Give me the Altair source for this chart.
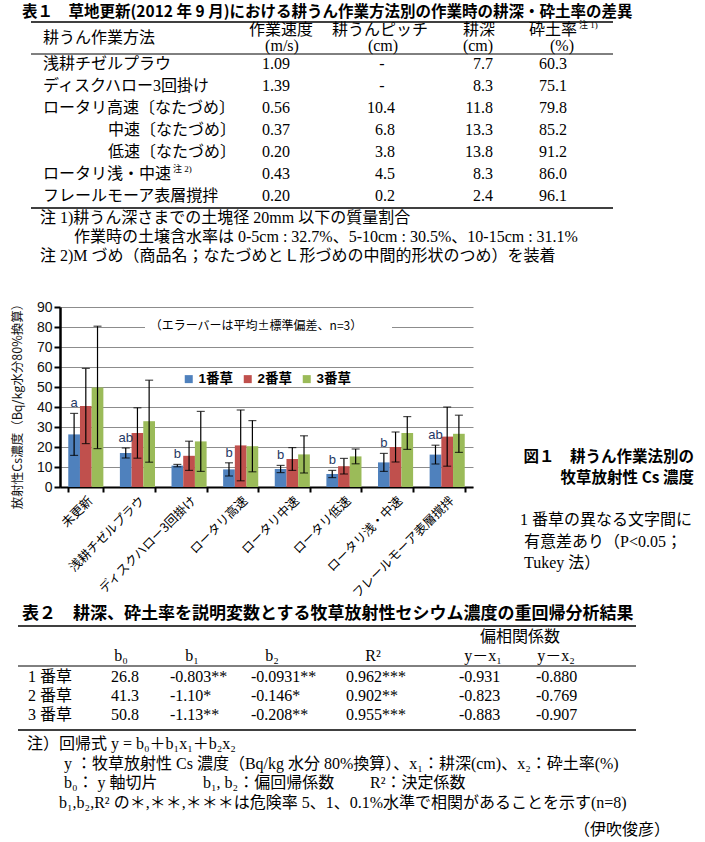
import altair as alt
import pandas as pd

# ---------------- Figure 1 values ----------------
methods = ["未更新", "浅耕チゼルプラウ", "ディスクハロー3回掛け", "ロータリ高速",
           "ロータリ中速", "ロータリ低速", "ロータリ浅・中速", "フレールモーア表層撹拌"]
cuts = ["1番草", "2番草", "3番草"]
mean_1 = [26.3, 17.0, 10.7, 8.8, 9.0, 6.5, 12.3, 16.2]
sd_1 = [10.5, 2.5, 0.6, 3.3, 1.8, 1.8, 4.5, 4.7]
mean_2 = [40.5, 27.0, 15.6, 20.8, 14.0, 10.4, 20.0, 25.2]
sd_2 = [18.8, 12.6, 7.3, 17.7, 5.7, 3.9, 7.5, 14.8]
mean_3 = [49.8, 32.9, 22.8, 20.4, 16.3, 15.3, 27.0, 26.6]
sd_3 = [30.6, 20.5, 15.0, 12.8, 9.3, 3.7, 8.2, 9.3]
letters = ["a", "ab", "b", "b", "b", "b", "b", "ab"]
y_ticks = [0, 10, 20, 30, 40, 50, 60, 70, 80, 90]
colors = ["#4F81BD", "#C0504D", "#9BBB59"]

# ---------------- Table 1 values ----------------
t1_title = "表１　草地更新(2012 年 9 月)における耕うん作業方法別の作業時の耕深・砕土率の差異"
t1_methods = ["浅耕チゼルプラウ", "ディスクハロー3回掛け", "ロータリ高速〔なたづめ〕",
              "中速〔なたづめ〕", "低速〔なたづめ〕", "ロータリ浅・中速", "フレールモーア表層撹拌"]
t1_speed = [1.09, 1.39, 0.56, 0.37, 0.20, 0.43, 0.20]
t1_pitch = [None, None, 10.4, 6.8, 3.8, 4.5, 0.2]
t1_depth = [7.7, 8.3, 11.8, 13.3, 13.8, 8.3, 2.4]
t1_crush = [60.3, 75.1, 79.8, 85.2, 91.2, 86.0, 96.1]
t1_notes = ["注 1)耕うん深さまでの土塊径 20mm 以下の質量割合",
            "作業時の土壌含水率は 0-5cm : 32.7%、5-10cm : 30.5%、10-15cm : 31.1%",
            "注 2)M づめ（商品名；なたづめとＬ形づめの中間的形状のつめ）を装着"]

# ---------------- Table 2 values ----------------
t2_title = "表２　耕深、砕土率を説明変数とする牧草放射性セシウム濃度の重回帰分析結果"
t2_rows = ["1 番草", "2 番草", "3 番草"]
t2_b0 = ["26.8", "41.3", "50.8"]
t2_b1 = ["-0.803**", "-1.10*", "-1.13**"]
t2_b2 = ["-0.0931**", "-0.146*", "-0.208**"]
t2_r2 = ["0.962***", "0.902**", "0.955***"]
t2_yx1 = ["-0.931", "-0.823", "-0.883"]
t2_yx2 = ["-0.880", "-0.769", "-0.907"]
t2_heads = ["b₀", "b₁", "b₂", "R²", "y－x₁", "y－x₂"]

caption = ["図１　耕うん作業法別の", "牧草放射性 Cs 濃度"]
caption_note = ["1 番草の異なる文字間に", "有意差あり（P<0.05；", "Tukey 法）"]
annotation = "（エラーバーは平均±標準偏差、n=3）"

# ---------------- layout (page pixels) ----------------
OX, OY = 60, 307          # plot origin on the page
PLOT_W, PLOT_H = 413, 180
PAGE_W, PAGE_H = 705, 842

SERIF = "Liberation Serif, Noto Sans CJK JP"
GOTHIC = "Noto Sans CJK JP"
SANS = "Liberation Sans, Noto Sans CJK JP"

texts = []


def add(px, py, text, size, style):
    texts.append(dict(x=px - OX, y=py - OY, text=text, size=size, style=style))


lines = []


def hline(x1, x2, py, w):
    lines.append(dict(x=x1 - OX, x2=x2 - OX, y=py - OY, w=w))


# Table 1
add(22, 12, t1_title, 15.5, "lb")
hline(31, 613, 22, 1.5)
hline(31, 613, 54, 1)
hline(31, 613, 208, 1.5)
add(43, 38, "耕うん作業方法", 16, "l")
add(281, 30, "作業速度", 16, "c")
add(282, 46, "(m/s)", 16, "c")
add(380, 30, "耕うんピッチ", 16, "c")
add(383, 46, "(cm)", 16, "c")
add(479, 30, "耕深", 16, "c")
add(478, 46, "(cm)", 16, "c")
add(553, 30, "砕土率", 16, "c")
add(579, 25, "注 1)", 9, "l")
add(562, 46, "(%)", 16, "c")
t1_row_y = [64, 86, 108, 130, 152, 174, 196]
t1_label_x = [43, 43, 43, 108, 108, 43, 43]
for i in range(len(t1_methods)):
    yy = t1_row_y[i]
    add(t1_label_x[i], yy, t1_methods[i], 16, "l")
    add(290, yy, f"{t1_speed[i]:.2f}", 16, "r")
    if t1_pitch[i] is None:
        add(382, yy, "-", 16, "c")
    else:
        add(395, yy, f"{t1_pitch[i]:.1f}", 16, "r")
    add(493, yy, f"{t1_depth[i]:.1f}", 16, "r")
    add(567, yy, f"{t1_crush[i]:.1f}", 16, "r")
add(173, 169, "注 2)", 9, "l")
add(40, 218, t1_notes[0], 16, "l")
add(74, 237, t1_notes[1], 16, "l")
add(40, 256, t1_notes[2], 16, "l")

# Figure caption (right of chart)
add(694, 457, caption[0], 15.5, "rb")
add(694, 478, caption[1], 15.5, "rb")
add(520, 520, caption_note[0], 16, "l")
add(524, 542, caption_note[1], 16, "l")
add(524, 563, caption_note[2], 16, "l")

# Table 2
add(22, 614, t2_title, 17, "lb")
hline(18, 636, 626, 1.5)
hline(18, 636, 666, 1)
hline(18, 636, 730, 1.5)
add(520, 637, "偏相関係数", 16, "c")
head_x = [121, 192, 272, 373, 483, 556]
for hx, h in zip(head_x, t2_heads):
    add(hx, 656, h, 16, "c")
t2_row_y = [677, 696, 715]
col_x = [111, 170, 251, 346, 459, 536]
for i in range(3):
    yy = t2_row_y[i]
    add(28, yy, t2_rows[i], 16, "l")
    for cx, col in zip(col_x, [t2_b0, t2_b1, t2_b2, t2_r2, t2_yx1, t2_yx2]):
        add(cx, yy, col[i], 16, "l")
add(27, 744, "注）回帰式 y = b₀＋b₁x₁＋b₂x₂", 16, "l")
add(64, 764, "y ：牧草放射性 Cs 濃度（Bq/kg 水分 80%換算）、x₁：耕深(cm)、x₂：砕土率(%)", 16, "l")
add(64, 783, "b₀： y 軸切片", 16, "l")
add(203, 783, "b₁, b₂：偏回帰係数", 16, "l")
add(370, 783, "R²：決定係数", 16, "l")
add(59, 803, "b₁,b₂,R² の＊,＊＊,＊＊＊は危険率 5、1、0.1%水準で相関があることを示す(n=8)", 16, "l")
add(670, 830, "（伊吹俊彦）", 16, "r")

text_df = pd.DataFrame(texts)
line_df = pd.DataFrame(lines)

# ---------------- pixel-placed layers ----------------
PX = alt.X("x:Q", scale=None, axis=None)
PY = alt.Y("y:Q", scale=None, axis=None)

bbox = alt.Chart(pd.DataFrame([dict(x=-OX, x2=PAGE_W - OX, y=-OY, y2=PAGE_H - OY)])).mark_rect(
    opacity=0).encode(x=PX, x2="x2:Q", y=PY, y2="y2:Q")

rules = alt.Chart(line_df).mark_rule(color="black").encode(
    x=PX, x2="x2:Q", y=PY,
    strokeWidth=alt.StrokeWidth("w:Q", scale=None, legend=None))

ann_box = alt.Chart(pd.DataFrame([dict(x=145 - OX, x2=392 - OX, y=316 - OY, y2=336 - OY)])).mark_rect(
    color="white").encode(x=PX, x2="x2:Q", y=PY, y2="y2:Q")
ann_text = alt.Chart(pd.DataFrame([dict(x=256 - OX, y=326 - OY, text=annotation)])).mark_text(
    font=GOTHIC, fontSize=12, color="black", baseline="middle", align="center").encode(
    x=PX, y=PY, text="text:N")

styles = {
    "l": dict(align="left", font=SERIF, fontWeight="normal"),
    "c": dict(align="center", font=SERIF, fontWeight="normal"),
    "r": dict(align="right", font=SERIF, fontWeight="normal"),
    "lb": dict(align="left", font=GOTHIC, fontWeight="bold"),
    "rb": dict(align="right", font=GOTHIC, fontWeight="bold"),
}
text_layers = []
for key, st in styles.items():
    sub = text_df[text_df["style"] == key]
    if len(sub) == 0:
        continue
    text_layers.append(
        alt.Chart(sub).mark_text(baseline="middle", color="black", **st).encode(
            x=PX, y=PY, text="text:N",
            size=alt.Size("size:Q", scale=None, legend=None)))

# ---------------- bar chart ----------------
rows = []
for i, m in enumerate(methods):
    for cut, means, sds in zip(cuts, [mean_1, mean_2, mean_3], [sd_1, sd_2, sd_3]):
        rows.append(dict(method=m, cut=cut, mean=means[i],
                         lo=round(means[i] - sds[i], 2), hi=round(means[i] + sds[i], 2),
                         letter=letters[i] if cut == cuts[0] else ""))
bar_df = pd.DataFrame(rows)

x_enc = alt.X("method:N", sort=methods,
              scale=alt.Scale(paddingInner=0.32, paddingOuter=0.16),
              axis=alt.Axis(title=None, labelAngle=-45, labelAlign="right", labelBaseline="top",
                            labelFont=GOTHIC, labelFontSize=12.5, labelColor="black",
                            labelPadding=2, tickBand="extent", tickSize=5, tickWidth=2,
                            tickColor="black", domainColor="black", domainWidth=2,
                            grid=False, labelOverlap=False))
xo_enc = alt.XOffset("cut:N", sort=cuts, scale=alt.Scale(paddingInner=0, paddingOuter=0))
y_scale = alt.Scale(domain=[0, 90], nice=False, zero=True)
y_axis = alt.Axis(title="放射性Cs濃度（Bq/kg水分80%換算）", values=y_ticks,
                  titleFont=GOTHIC, titleFontSize=12.5, titleFontWeight="normal",
                  titleColor="#111111", titleX=-43, titleY=96, titleAngle=270,
                  titleAlign="center", titleBaseline="middle",
                  labelFont=SANS, labelFontSize=14, labelColor="#111111", labelPadding=2,
                  tickSize=6, tickWidth=2, tickColor="black",
                  domainColor="black", domainWidth=2.5,
                  grid=True, gridColor="#8c8c8c", gridWidth=1)

bars = alt.Chart(bar_df).mark_bar().encode(
    x=x_enc, xOffset=xo_enc,
    y=alt.Y("mean:Q", scale=y_scale, axis=y_axis),
    color=alt.Color("cut:N", sort=cuts, scale=alt.Scale(domain=cuts, range=colors),
                    legend=alt.Legend(orient="none", legendX=122, legendY=65,
                                      direction="horizontal", title=None,
                                      symbolType="square", symbolSize=64,
                                      symbolStrokeWidth=0, labelFont=SANS,
                                      labelFontSize=13.5, labelFontWeight="bold",
                                      labelColor="black", labelOffset=3,
                                      columnPadding=7, padding=0)))

err = alt.Chart(bar_df).mark_rule(color="black", strokeWidth=1.2).encode(
    x=x_enc, xOffset=xo_enc,
    y=alt.Y("lo:Q", scale=y_scale, axis=y_axis), y2="hi:Q")

caps = alt.Chart(bar_df).transform_fold(["lo", "hi"], as_=["k", "v"]).mark_tick(
    color="black", size=8, thickness=1.2).encode(
    x=x_enc, xOffset=xo_enc,
    y=alt.Y("v:Q", scale=y_scale, axis=y_axis))

letter_layer = alt.Chart(bar_df[bar_df["cut"] == cuts[0]]).mark_text(
    baseline="bottom", dy=-3, font=SANS, fontSize=13, color="#1F3864").encode(
    x=x_enc, xOffset=xo_enc,
    y=alt.Y("hi:Q", scale=y_scale, axis=y_axis), text="letter:N")

chart = alt.layer(
    bbox, rules, ann_box, ann_text, bars, err, caps, letter_layer, *text_layers
).properties(
    width=PLOT_W, height=PLOT_H, padding=0
).configure_view(stroke=None)

chart.save("out.html", embed_options={"renderer": "svg", "actions": False})
